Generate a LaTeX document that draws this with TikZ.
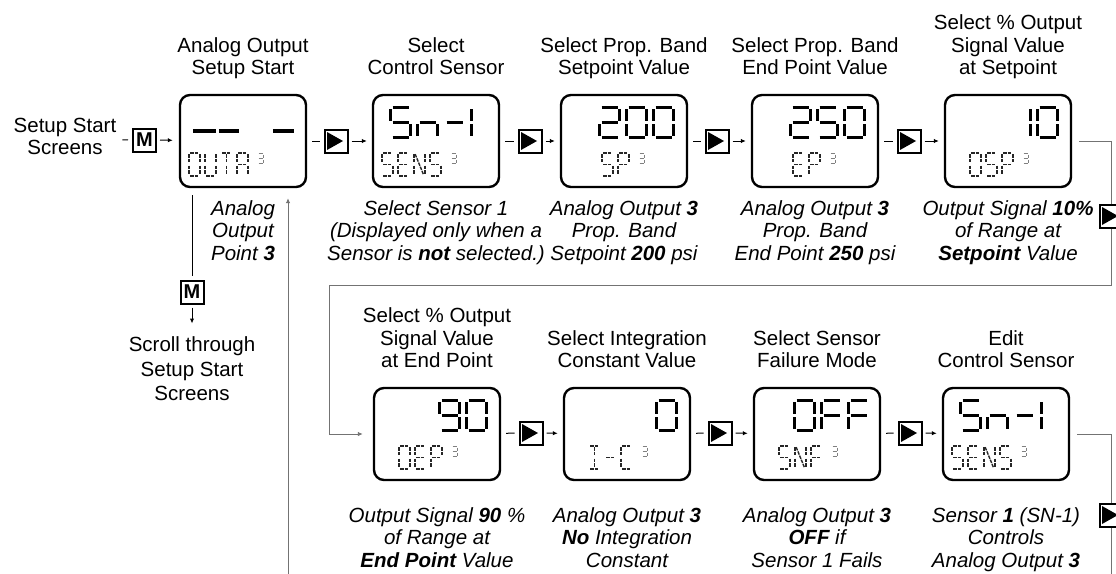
\documentclass[tikz,border=0pt]{standalone}
\usepackage{fontspec}
\setmainfont{Liberation Sans}
\usetikzlibrary{positioning,arrows.meta}

% segments lit for each character
\newcommand\defsegs[2]{\expandafter\def\csname segs-#1\endcsname{#2}}
\defsegs{0}{a,b,c,d,e,f}
\defsegs{1}{b,c}
\defsegs{2}{a,b,m,e,d}
\defsegs{3}{a,b,m,c,d}
\defsegs{5}{a,f,m,c,d}
\defsegs{9}{a,b,c,d,f,m}
\defsegs{S}{a,f,m,c,d}
\defsegs{n}{e,m,c}
\defsegs{l}{e,f}
\defsegs{-}{m}
\defsegs{O}{a,b,c,d,e,f}
\defsegs{F}{a,f,m,e}
\defsegs{U}{b,c,d,e,f}
\defsegs{T}{a,i,j}
\defsegs{A}{a,b,c,e,f,m}
\defsegs{E}{a,f,m,e,d}
\defsegs{N}{e,f,b,c,k}
\defsegs{P}{a,b,f,m,e}
\defsegs{C}{a,f,e,d}
\defsegs{I}{a,d,i,j}

% segment paths in a cell of \segw x \segh
\newcommand\defsegpath[2]{\expandafter\def\csname segp-#1\endcsname{#2}}
\defsegpath{a}{(\segg,0) -- (\segw-\segg,0)}
\defsegpath{b}{(\segw,\segg) -- (\segw,\segh/2-\segg)}
\defsegpath{c}{(\segw,\segh/2+\segg) -- (\segw,\segh-\segg)}
\defsegpath{d}{(\segg,\segh) -- (\segw-\segg,\segh)}
\defsegpath{e}{(0,\segh/2+\segg) -- (0,\segh-\segg)}
\defsegpath{f}{(0,\segg) -- (0,\segh/2-\segg)}
\defsegpath{m}{(\segg,\segh/2) -- (\segw-\segg,\segh/2)}
\defsegpath{i}{(\segw/2,\segg) -- (\segw/2,\segh/2-\segg)}
\defsegpath{j}{(\segw/2,\segh/2+\segg) -- (\segw/2,\segh-\segg)}
\defsegpath{k}{(\segg,\segg) -- (\segw-\segg,\segh-\segg)}

\newcommand\segchars[4]{%
  \foreach \ch [count=\k from 0] in {#4} {
    \edef\seglist{\csname segs-\ch\endcsname}
    \foreach \sgm in \seglist {
      \expandafter\let\expandafter\segpath\csname segp-\sgm\endcsname
      \draw[shift={(#1+\k*#3,#2)}] \segpath;
    }
  }%
}
\newcommand\bigdigits[3]{\begin{scope}[bigseg]\def\segw{20}\def\segh{30}\def\segg{1.8}\segchars{#1}{#2}{27}{#3}\end{scope}}
\newcommand\smallchars[3]{\begin{scope}[smallseg]\def\segw{11}\def\segh{23}\def\segg{1.4}\segchars{#1}{#2}{16}{#3}\end{scope}}
\newcommand\supthree[2]{\begin{scope}[supseg]\def\segw{6}\def\segh{10}\def\segg{0.8}\segchars{#1}{#2}{0}{3}\end{scope}}

\tikzset{
  >={Latex[length=5pt,width=4.5pt]},
  lcd/.style={draw, line width=2.4pt, rounded corners=10pt, minimum width=126pt, minimum height=92pt, inner sep=0pt},
  btnbox/.style={draw, line width=2pt, minimum size=23pt, inner sep=0pt, fill=white},
  playbtn/.style={btnbox, path picture={\fill[black] ([shift={(-9,-9)}]path picture bounding box.center) -- ++(16,9) -- ++(-16,9) -- cycle;}},
  modebtn/.style={btnbox, font=\fontsize{20}{20}\selectfont\bfseries},
  link/.style={line width=1pt},
  wire/.style={line width=0.9pt, black!55},
  heading/.style={align=center, font=\fontsize{20.5}{22.5}\selectfont, inner sep=2pt, execute at end node=\strut},
  remark/.style={align=center, font=\fontsize{20.5}{22.5}\selectfont\itshape, inner sep=2pt, execute at begin node=\strut},
  bigseg/.style={line width=3.3pt},
  smallseg/.style={line width=1.4pt, black!85, dash pattern=on 3.5pt off 1pt},
  supseg/.style={line width=0.9pt, black!50},
}

\begin{document}
\begin{tikzpicture}[x=1pt, y=-1pt]
\useasboundingbox (0,0) rectangle (1116,573);

% screens, first row
\node[lcd] (outa) at (243,141) {};
\node[lcd] (sens) at (436,141) {};
\node[lcd] (sp) at (624,141) {};
\node[lcd] (ep) at (815,141) {};
\node[lcd] (osp) at (1008,141) {};
% screens, second row
\node[lcd] (oep) at (437,434) {};
\node[lcd] (ic) at (627,434) {};
\node[lcd] (snf) at (817,434) {};
\node[lcd] (edit) at (1006,434) {};

% what the screens show
\begin{scope}[shift={(outa.north west)}]
  \draw[line width=4pt] (14,37) -- (37,37) (40,37) -- (60,37) (94,37) -- (115,37);
  \smallchars{10}{59}{O,U,T,A} \supthree{79}{60}
\end{scope}
\begin{scope}[shift={(sens.north west)}]
  \bigdigits{19}{13.5}{S,n,-,l} \smallchars{10}{59}{S,E,N,S} \supthree{79}{60}
\end{scope}
\begin{scope}[shift={(sp.north west)}]
  \bigdigits{40}{13.5}{2,0,0} \smallchars{42}{59}{S,P} \supthree{79}{60}
\end{scope}
\begin{scope}[shift={(ep.north west)}]
  \bigdigits{40}{13.5}{2,5,0} \smallchars{42}{59}{E,P} \supthree{79}{60}
\end{scope}
\begin{scope}[shift={(osp.north west)}]
  \bigdigits{67}{13.5}{1,0} \smallchars{26}{59}{O,S,P} \supthree{79}{60}
\end{scope}
\begin{scope}[shift={(oep.north west)}]
  \bigdigits{67}{13.5}{9,0} \smallchars{26}{59}{O,E,P} \supthree{79}{60}
\end{scope}
\begin{scope}[shift={(ic.north west)}]
  \bigdigits{94}{13.5}{0} \smallchars{26}{59}{I,-,C} \supthree{79}{60}
\end{scope}
\begin{scope}[shift={(snf.north west)}]
  \bigdigits{42}{13.5}{O,F,F} \smallchars{26}{59}{S,N,F} \supthree{79}{60}
\end{scope}
\begin{scope}[shift={(edit.north west)}]
  \bigdigits{19}{13.5}{S,n,-,l} \smallchars{10}{59}{S,E,N,S} \supthree{79}{60}
\end{scope}

% long return lines
\coordinate (turn1) at (1111,285);
\coordinate (turn2) at (329,285);
\coordinate (rfoot) at (1111,580);
\coordinate (upfoot) at (288,580);
\draw[wire, ->, shorten >=10pt] ([xshift=7pt]osp.east) -| (turn1) -- (turn2) |- (oep.west);
\draw[wire] ([xshift=7pt]edit.east) -| (rfoot);
\draw[wire, ->, shorten >=10pt] (upfoot) -- (upfoot |- outa.south);

% keys
\node[modebtn] (m1) at (144.5,140) {M};
\node[modebtn] (m2) at (192,292) {M};
\node[playbtn] (k1) at (336,141) {};
\node[playbtn] (k2) at (530,141) {};
\node[playbtn] (k3) at (717,141) {};
\node[playbtn] (k4) at (909,141) {};
\node[playbtn] (k5) at (531,433) {};
\node[playbtn] (k6) at (720,433) {};
\node[playbtn] (k7) at (910,433) {};
\node[playbtn] (r1) at (1111,216) {};
\node[playbtn] (r2) at (1111,515) {};

% start texts
\node[heading] (setup) at (65,139.5) {Setup Start\\Screens};
\node[heading, below=30pt of m2, font=\fontsize{20.5}{24.5}\selectfont] (scroll) {Scroll through\\Setup Start\\Screens};

\draw[link, shorten <=4pt, shorten >=4pt] (setup) -- (m1);
\draw[link, ->, shorten <=3pt, shorten >=6pt] (m1) -- (outa);
\draw[link, shorten <=7pt, shorten >=4pt] (m2 |- outa.south) -- (m2);
\draw[link, ->, shorten <=3pt, shorten >=11pt] (m2) -- (scroll);

\draw[link, shorten <=5pt, shorten >=4pt] (outa) -- (k1);
\draw[link, ->, shorten <=3pt, shorten >=5pt] (k1) -- (sens);
\draw[link, shorten <=5pt, shorten >=4pt] (sens) -- (k2);
\draw[link, ->, shorten <=3pt, shorten >=5pt] (k2) -- (sp);
\draw[link, shorten <=5pt, shorten >=4pt] (sp) -- (k3);
\draw[link, ->, shorten <=3pt, shorten >=5pt] (k3) -- (ep);
\draw[link, shorten <=5pt, shorten >=4pt] (ep) -- (k4);
\draw[link, ->, shorten <=3pt, shorten >=5pt] (k4) -- (osp);
\draw[link, shorten <=5pt, shorten >=4pt] (oep) -- (k5);
\draw[link, ->, shorten <=3pt, shorten >=5pt] (k5) -- (ic);
\draw[link, shorten <=5pt, shorten >=4pt] (ic) -- (k6);
\draw[link, ->, shorten <=3pt, shorten >=5pt] (k6) -- (snf);
\draw[link, shorten <=5pt, shorten >=4pt] (snf) -- (k7);
\draw[link, ->, shorten <=3pt, shorten >=5pt] (k7) -- (edit);

% titles over the screens
\node[heading, above=10pt of outa] {Analog Output\\Setup Start};
\node[heading, above=10pt of sens] {Select\\Control Sensor};
\node[heading, above=10pt of sp] {Select Prop. Band\\Setpoint Value};
\node[heading, above=10pt of ep] {Select Prop. Band\\End Point Value};
\node[heading, above=10pt of osp] {Select \% Output\\Signal Value\\at Setpoint};
\node[heading, above=10pt of oep] {Select \% Output\\Signal Value\\at End Point};
\node[heading, above=10pt of ic] {Select Integration\\Constant Value};
\node[heading, above=10pt of snf] {Select Sensor\\Failure Mode};
\node[heading, above=10pt of edit] {Edit\\Control Sensor};

% remarks under the screens
\node[remark, below=10pt of outa] {Analog\\Output\\Point \textbf{3}};
\node[remark, below=10pt of sens] {Select Sensor 1\\(Displayed only when a\\Sensor is \textbf{not} selected.)};
\node[remark, below=10pt of sp] {Analog Output \textbf{3}\\Prop. Band\\Setpoint \textbf{200} psi};
\node[remark, below=10pt of ep] {Analog Output \textbf{3}\\Prop. Band\\End Point \textbf{250} psi};
\node[remark, below=10pt of osp] {Output Signal \textbf{10\%}\\of Range at\\\textbf{Setpoint} Value};
\node[remark, below=24pt of oep] {Output Signal \textbf{90} \%\\of Range at\\\textbf{End Point} Value};
\node[remark, below=24pt of ic] {Analog Output \textbf{3}\\\textbf{No} Integration\\Constant};
\node[remark, below=24pt of snf] {Analog Output \textbf{3}\\\textbf{OFF} if\\Sensor 1 Fails};
\node[remark, below=24pt of edit] {Sensor \textbf{1} (SN-1)\\Controls\\Analog Output \textbf{3}};

\end{tikzpicture}
\end{document}
